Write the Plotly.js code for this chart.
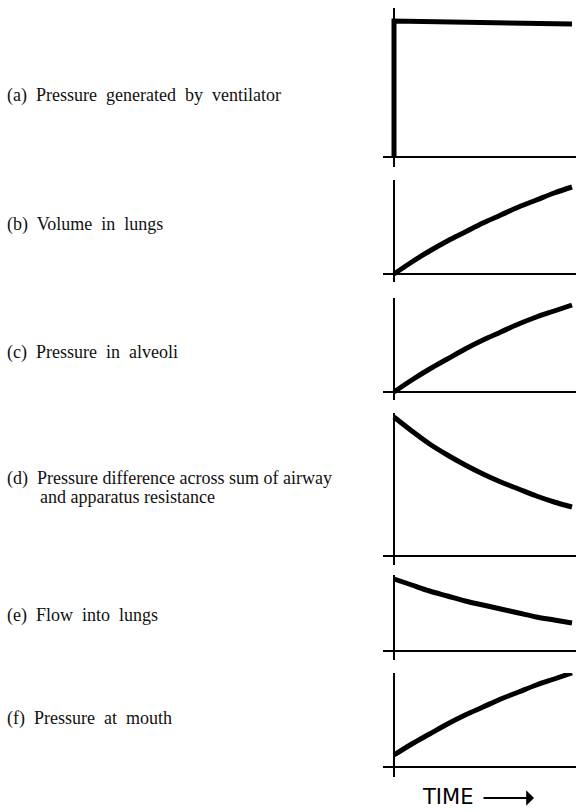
<!DOCTYPE html>
<html>
<head>
<meta charset="utf-8">
<script src="https://cdn.plot.ly/plotly-3.0.1.min.js"></script>
<style>body{margin:0;background:#fff}</style>
</head>
<body>
<div id="chart" style="width:576px;height:812px"></div>
<script>
// shared time axis (arbitrary units, 0 = start of inspiration)
var time = [0, 0.1, 0.2, 0.3, 0.4, 0.5, 0.6, 0.7, 0.8, 0.9, 1.0];

// (a) square pressure wave from the ventilator
var ventTime = [0, 0, 1];
var ventPressure = [0, 1.36, 1.33];

// (b)-(f), arbitrary units
var lungVolume = [0, 0.12, 0.23, 0.33, 0.42, 0.51, 0.59, 0.67, 0.74, 0.81, 0.87];
var alveolarPressure = [0, 0.12, 0.23, 0.33, 0.43, 0.52, 0.60, 0.68, 0.75, 0.81, 0.87];
var resistancePressure = [1.39, 1.25, 1.12, 1.01, 0.91, 0.82, 0.74, 0.67, 0.60, 0.54, 0.49];
var lungFlow = [0.72, 0.66, 0.60, 0.55, 0.50, 0.46, 0.42, 0.38, 0.34, 0.31, 0.28];
var mouthPressure = [0.12, 0.23, 0.33, 0.43, 0.52, 0.60, 0.68, 0.75, 0.82, 0.88, 0.94];

var labels = [
    '(a)  Pressure  generated  by  ventilator',
    '(b)  Volume  in  lungs',
    '(c)  Pressure  in  alveoli',
    '(d)  Pressure difference across sum of airway',
    '(e)  Flow  into  lungs',
    '(f)  Pressure  at  mouth'
];

var W = 576, H = 812;
var PX_PER_UNIT = 100;

// pixel rows of each panel: top of vertical axis, time axis, bottom of vertical axis, label centre
var panels = [
    {top: 8, axis: 157, bottom: 167, label: 96},
    {top: 180, axis: 274, bottom: 282, label: 224},
    {top: 298, axis: 392, bottom: 400, label: 352},
    {top: 413, axis: 556, bottom: 565, label: 478},
    {top: 575, axis: 651, bottom: 660, label: 615},
    {top: 673, axis: 767, bottom: 777, label: 718}
];

var series = [
    [ventTime, ventPressure],
    [time, lungVolume],
    [time, alveolarPressure],
    [time, resistancePressure],
    [time, lungFlow],
    [time, mouthPressure]
];

var data = [];
var layout = {
    width: W,
    height: H,
    margin: {l: 0, r: 0, t: 0, b: 0},
    paper_bgcolor: '#fff',
    plot_bgcolor: '#fff',
    showlegend: false,
    annotations: []
};

// x=0 sits at px 394, x=1 at px 572
var xLeft = 383, xZero = 394, xOne = 572;
var xScale = xOne - xZero;
var labelFont = {family: 'Liberation Serif, serif', size: 18, color: '#111'};

panels.forEach(function (p, i) {
    var n = i === 0 ? '' : String(i + 1);
    data.push({
        x: series[i][0],
        y: series[i][1],
        xaxis: 'x' + n,
        yaxis: 'y' + n,
        mode: 'lines',
        line: i === 0 ? {color: '#000', width: 5} :
            {color: '#000', width: 5, shape: 'spline', smoothing: 1},
        hoverinfo: 'skip'
    });
    layout['xaxis' + n] = {
        domain: [xLeft / W, 1],
        range: [-(xZero - xLeft) / xScale, (W - xZero) / xScale],
        anchor: 'y' + n,
        showgrid: false,
        showticklabels: false,
        ticks: '',
        showline: false,
        zeroline: true,
        zerolinecolor: '#000',
        zerolinewidth: 2,
        fixedrange: true
    };
    layout['yaxis' + n] = {
        domain: [(H - p.bottom) / H, (H - p.top) / H],
        range: [-(p.bottom - p.axis) / PX_PER_UNIT, (p.axis - p.top) / PX_PER_UNIT],
        anchor: 'x' + n,
        showgrid: false,
        showticklabels: false,
        ticks: '',
        showline: false,
        zeroline: true,
        zerolinecolor: '#000',
        zerolinewidth: 2,
        fixedrange: true
    };
    layout.annotations.push({
        text: labels[i],
        xref: 'paper', yref: 'paper',
        x: 5 / W, y: 1 - p.label / H,
        xanchor: 'left', yanchor: 'middle',
        showarrow: false,
        font: labelFont
    });
});

// second line of label (d)
layout.annotations.push({
    text: 'and apparatus resistance',
    xref: 'paper', yref: 'paper',
    x: 38 / W, y: 1 - 497 / H,
    xanchor: 'left', yanchor: 'middle',
    showarrow: false,
    font: labelFont
});

layout.annotations.push({
    text: 'TIME',
    xref: 'paper', yref: 'paper',
    x: 420 / W, y: 1 - 797 / H,
    xanchor: 'left', yanchor: 'middle',
    showarrow: false,
    font: {family: 'DejaVu Sans, sans-serif', size: 21, color: '#000'}
});
// the arrow after TIME
layout.annotations.push({
    text: '',
    xref: 'paper', yref: 'paper',
    x: 534 / W, y: 1 - 798 / H,
    ax: -52, ay: 0,
    showarrow: true,
    arrowhead: 1,
    arrowsize: 1.3,
    arrowwidth: 2,
    arrowcolor: '#000'
});

Plotly.newPlot('chart', data, layout, {displayModeBar: false, staticPlot: true});
</script>
</body>
</html>
